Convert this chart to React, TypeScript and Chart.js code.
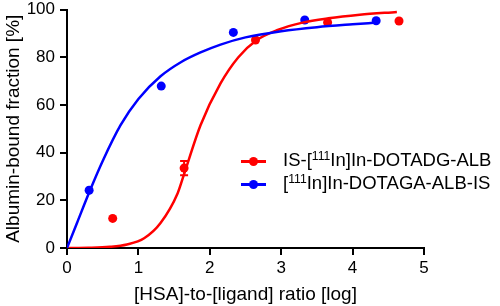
import React, { useEffect, useRef } from "react";
import { Chart, registerables } from "chart.js";
Chart.register(...registerables);

// Measured data points
const redX = [0.64, 1.64, 2.64, 3.65, 4.65];
const redY = [12.4, 33.5, 87.2, 94.6, 95.2];
const redErr = [0, 3, 0, 0, 0];
const blueX = [0.31, 1.32, 2.33, 3.33, 4.33];
const blueY = [24.2, 67.9, 90.4, 95.6, 95.3];

// Fitted curves
const redCurveX = [0, 0.3, 0.6, 0.84, 1.08, 1.31, 1.55, 1.64, 1.87, 2.15, 2.4, 2.65, 2.95, 3.3, 3.66, 4.1, 4.62];
const redCurveY = [0, 0.1, 0.5, 1.5, 4.1, 10.5, 23, 31, 51.5, 69, 80, 87, 91.4, 94.5, 96.3, 97.8, 99];
const blueCurveX = [0, 0.14, 0.32, 0.5, 0.75, 1.0, 1.31, 1.6, 1.87, 2.15, 2.5, 3.0, 3.5, 4.0, 4.33];
const blueCurveY = [0, 10.5, 24, 36.5, 51.5, 62.5, 72, 78, 82, 85.3, 88.3, 90.9, 92.6, 93.8, 94.5];

const xTicks = [0, 1, 2, 3, 4, 5];
const yTicks = [0, 20, 40, 60, 80, 100];

const RED = "#ff0000";
const BLUE = "#0000ff";
const FONT = "'Liberation Sans', Arial, Helvetica, sans-serif";

const zip = (xs: number[], ys: number[]) => xs.map((x, i) => ({ x, y: ys[i] }));

const errorBarPlugin = {
  id: "errorBars",
  afterDatasetsDraw(chart: any) {
    const ctx = chart.ctx;
    const xs = chart.scales.x;
    const ys = chart.scales.y;
    ctx.save();
    ctx.strokeStyle = RED;
    ctx.lineWidth = 2;
    redX.forEach((x, i) => {
      const e = redErr[i];
      if (!e) return;
      const px = xs.getPixelForValue(x);
      const pTop = ys.getPixelForValue(redY[i] + e);
      const pBot = ys.getPixelForValue(redY[i] - e);
      ctx.beginPath();
      ctx.moveTo(px, pTop);
      ctx.lineTo(px, pBot);
      ctx.moveTo(px - 4, pTop);
      ctx.lineTo(px + 4, pTop);
      ctx.moveTo(px - 4, pBot);
      ctx.lineTo(px + 4, pBot);
      ctx.stroke();
    });
    ctx.restore();
  },
};

export default function App() {
  const ref = useRef<HTMLCanvasElement | null>(null);
  useEffect(() => {
    if (!ref.current) return;
    const chart = new Chart(ref.current, {
      type: "scatter",
      data: {
        datasets: [
          {
            label: "blueCurve",
            data: zip(blueCurveX, blueCurveY),
            showLine: true,
            borderColor: BLUE,
            borderWidth: 2.5,
            pointRadius: 0,
            cubicInterpolationMode: "monotone",
          },
          {
            label: "redCurve",
            data: zip(redCurveX, redCurveY),
            showLine: true,
            borderColor: RED,
            borderWidth: 2.5,
            pointRadius: 0,
            cubicInterpolationMode: "monotone",
          },
          {
            label: "blue",
            data: zip(blueX, blueY),
            showLine: false,
            backgroundColor: BLUE,
            borderColor: BLUE,
            pointRadius: 4.5,
            borderWidth: 0,
          },
          {
            label: "red",
            data: zip(redX, redY),
            showLine: false,
            backgroundColor: RED,
            borderColor: RED,
            pointRadius: 4.5,
            borderWidth: 0,
          },
        ],
      } as any,
      options: {
        animation: false,
        responsive: true,
        maintainAspectRatio: false,
        layout: { padding: { left: 2, top: 9.5, right: 76, bottom: 0 } },
        plugins: { legend: { display: false }, tooltip: { enabled: false } },
        scales: {
          x: {
            type: "linear",
            min: 0,
            max: 5,
            afterBuildTicks: (s: any) => {
              s.ticks = xTicks.map((v) => ({ value: v }));
            },
            afterFit: (s: any) => {
              s.height = 58;
            },
            ticks: { color: "#000", font: { family: FONT, size: 17 }, padding: 3 },
            border: { display: true, color: "#000", width: 2 },
            grid: { display: true, drawOnChartArea: false, drawTicks: true, tickLength: 7, color: "#000", lineWidth: 2 },
            title: { display: true, text: "[HSA]-to-[ligand] ratio [log]", color: "#000", font: { family: FONT, size: 19 }, padding: { top: 4, bottom: 0 } },
          },
          y: {
            type: "linear",
            min: 0,
            max: 100,
            afterBuildTicks: (s: any) => {
              s.ticks = yTicks.map((v) => ({ value: v }));
            },
            afterFit: (s: any) => {
              s.width = 65;
              s.paddingTop = 0;
              s.paddingBottom = 0;
            },
            ticks: { color: "#000", font: { family: FONT, size: 17 }, padding: 5 },
            border: { display: true, color: "#000", width: 2 },
            grid: { display: true, drawOnChartArea: false, drawTicks: true, tickLength: 7, color: "#000", lineWidth: 2 },
            title: { display: true, text: "Albumin-bound fraction [%]", color: "#000", font: { family: FONT, size: 19 }, padding: { top: 0, bottom: 2 } },
          },
        },
      } as any,
      plugins: [errorBarPlugin],
    });
    return () => chart.destroy();
  }, []);

  const legendRow = (color: string, content: React.ReactNode, top: number) => (
    <div style={{ position: "absolute", left: 241, top: top - 12, height: 24, display: "flex", alignItems: "center", whiteSpace: "nowrap" }}>
      <div style={{ position: "relative", width: 25, height: 24 }}>
        <div style={{ position: "absolute", left: 0, top: 11, width: 25, height: 2.5, background: color }} />
        <div style={{ position: "absolute", left: 8, top: 7.5, width: 9, height: 9, borderRadius: "50%", background: color }} />
      </div>
      <span style={{ marginLeft: 17, fontFamily: FONT, fontSize: 18.5, color: "#000", lineHeight: "24px" }}>{content}</span>
    </div>
  );
  const sup = (t: string) => (
    <span style={{ fontSize: "0.66em", position: "relative", top: "-0.5em" }}>{t}</span>
  );

  return (
    <div style={{ position: "fixed", left: 0, top: 0, width: 500, height: 306, background: "#fff" }}>
      <canvas ref={ref} />
      {legendRow(RED, <>IS-[{sup("111")}In]In-DOTADG-ALB</>, 161)}
      {legendRow(BLUE, <>[{sup("111")}In]In-DOTAGA-ALB-IS</>, 184)}
    </div>
  );
}
